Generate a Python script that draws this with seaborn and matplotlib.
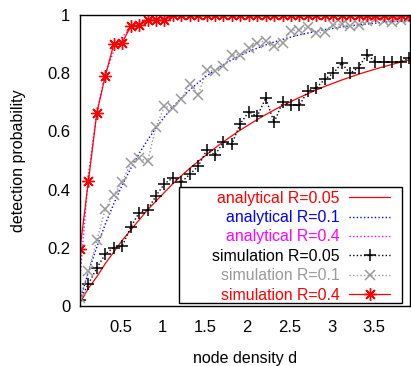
import numpy as np
import pandas as pd
import matplotlib
matplotlib.use("Agg")
import matplotlib.pyplot as plt
import seaborn as sns
from matplotlib.ticker import FixedLocator, FuncFormatter
from matplotlib.patches import Rectangle

# ---------------- data ----------------
density = [0.02, 0.12, 0.22, 0.32, 0.42, 0.52, 0.62, 0.72, 0.82, 0.92,
           1.02, 1.12, 1.22, 1.32, 1.42, 1.52, 1.62, 1.72, 1.82, 1.92,
           2.02, 2.12, 2.22, 2.32, 2.42, 2.52, 2.62, 2.72, 2.82, 2.92,
           3.02, 3.12, 3.22, 3.32, 3.42, 3.52, 3.62, 3.72, 3.82, 3.92]

analytic_r005 = [0.010, 0.060, 0.100, 0.145, 0.185, 0.225, 0.260, 0.295, 0.330, 0.360,
                 0.390, 0.420, 0.447, 0.473, 0.497, 0.520, 0.543, 0.565, 0.585, 0.605,
                 0.623, 0.641, 0.658, 0.674, 0.689, 0.703, 0.717, 0.730, 0.743, 0.755,
                 0.766, 0.777, 0.787, 0.797, 0.806, 0.815, 0.823, 0.831, 0.839, 0.846]

analytic_r01 = [0.020, 0.116, 0.203, 0.281, 0.351, 0.415, 0.472, 0.524, 0.570, 0.612,
                0.650, 0.684, 0.715, 0.743, 0.768, 0.791, 0.811, 0.830, 0.847, 0.862,
                0.875, 0.887, 0.898, 0.908, 0.917, 0.925, 0.933, 0.939, 0.945, 0.951,
                0.955, 0.960, 0.964, 0.967, 0.970, 0.973, 0.976, 0.978, 0.980, 0.982]

analytic_r04 = [0.095, 0.451, 0.667, 0.798, 0.878, 0.926, 0.955, 0.973, 0.983, 0.990,
                0.994, 0.996, 0.998, 0.999, 0.999, 1.000, 1.000, 1.000, 1.000, 1.000,
                1.000, 1.000, 1.000, 1.000, 1.000, 1.000, 1.000, 1.000, 1.000, 1.000,
                1.000, 1.000, 1.000, 1.000, 1.000, 1.000, 1.000, 1.000, 1.000, 1.000]

sim_r005 = [0.020, 0.075, 0.130, 0.178, 0.200, 0.205, 0.270, 0.320, 0.330, 0.378,
            0.420, 0.440, 0.425, 0.452, 0.480, 0.535, 0.520, 0.563, 0.557, 0.627,
            0.668, 0.652, 0.715, 0.631, 0.700, 0.690, 0.690, 0.740, 0.750, 0.780,
            0.800, 0.835, 0.800, 0.820, 0.865, 0.840, 0.840, 0.840, 0.840, 0.852]

sim_r01 = [0.025, 0.120, 0.226, 0.332, 0.381, 0.427, 0.490, 0.508, 0.497, 0.615,
           0.686, 0.682, 0.711, 0.763, 0.726, 0.810, 0.808, 0.825, 0.863, 0.865,
           0.886, 0.906, 0.912, 0.895, 0.906, 0.946, 0.951, 0.961, 0.939, 0.941,
           0.967, 0.969, 0.963, 0.967, 0.981, 0.986, 0.981, 0.978, 0.984, 0.990]

sim_r04 = [0.195, 0.430, 0.665, 0.792, 0.900, 0.905, 0.962, 0.965, 0.983, 0.983,
           0.983, 1.000, 1.000, 1.000, 1.000, 1.000, 1.000, 1.000, 1.000, 1.000,
           1.000, 1.000, 1.000, 1.000, 1.000, 1.000, 1.000, 1.000, 1.000, 1.000,
           1.000, 1.000, 1.000, 1.000, 1.000, 1.000, 1.000, 1.000, 1.000, 1.000]

labels = ["analytical R=0.05", "analytical R=0.1", "analytical R=0.4",
          "simulation R=0.05", "simulation R=0.1", "simulation R=0.4"]
x_ticks = [0.5, 1, 1.5, 2, 2.5, 3, 3.5]
y_ticks = [0, 0.2, 0.4, 0.6, 0.8, 1]

# ---------------- style ----------------
sns.set_theme(style="white")
plt.rcParams["font.family"] = ["Liberation Sans", "DejaVu Sans"]
plt.rcParams["axes.edgecolor"] = "black"
plt.rcParams["axes.linewidth"] = 1.0

df = pd.DataFrame({"d": density,
                   "a005": analytic_r005, "a01": analytic_r01, "a04": analytic_r04,
                   "s005": sim_r005, "s01": sim_r01, "s04": sim_r04})

fig = plt.figure(figsize=(4.11, 3.66), dpi=100)
ax = fig.add_axes([80 / 411, (366 - 305.7) / 366, 330 / 411, 290.4 / 366])

dot = (0, (1, 1.6))
gray = "#9a9a9a"
specs = [
    ("a005", dict(color="red", linestyle="-", linewidth=0.9)),
    ("a01", dict(color="blue", linestyle=dot, linewidth=1.0)),
    ("a04", dict(color="magenta", linestyle=dot, linewidth=1.0)),
    ("s005", dict(color="black", linestyle=dot, linewidth=1.0, marker="+",
                  markersize=8, markeredgewidth=1.1, markeredgecolor="black")),
    ("s01", dict(color=gray, linestyle=dot, linewidth=1.0, marker="x",
                 markersize=7, markeredgewidth=1.1, markeredgecolor=gray)),
    ("s04", dict(color="red", linestyle="-", linewidth=0.9, marker=(8, 2, 0),
                 markersize=9, markeredgewidth=1.0, markeredgecolor="red")),
]
for (col, kw), lab in zip(specs, labels):
    sns.lineplot(data=df, x="d", y=col, ax=ax, label=lab, legend=False, **kw)

ax.set_xlim(0.02, 3.93)
ax.set_ylim(0, 1)
ax.xaxis.set_major_locator(FixedLocator(x_ticks))
ax.yaxis.set_major_locator(FixedLocator(y_ticks))
fmt = FuncFormatter(lambda v, p: "%g" % v)
ax.xaxis.set_major_formatter(fmt)
ax.yaxis.set_major_formatter(fmt)
ax.tick_params(direction="in", length=4, width=1, top=False, right=False,
               labelsize=12, colors="black")
ax.tick_params(axis="x", pad=10)
ax.tick_params(axis="y", pad=7)
for s in ax.spines.values():
    s.set_visible(True)
    s.set_color("black")
    s.set_linewidth(1.0)

ax.set_xlabel("node density d", fontsize=11.5, labelpad=12, color="black")
ax.set_ylabel("detection probability", fontsize=11.5, labelpad=15, color="black")

handles = ax.get_lines()[:6]
leg = ax.legend(handles, labels, loc="lower right", bbox_to_anchor=(0.94, 0.010),
                frameon=False, markerfirst=False, fontsize=11.4, handlelength=2.6,
                handletextpad=0.6, labelspacing=0.28, borderpad=0, borderaxespad=0,
                numpoints=1)
text_colors = ["red", "blue", "magenta", "black", gray, "red"]
for t, c in zip(leg.get_texts(), text_colors):
    t.set_color(c)

ax.add_patch(Rectangle((0.30, 0.009), 0.676, 0.400, transform=ax.transAxes,
                       fill=True, facecolor="white", edgecolor="black",
                       linewidth=1.0, zorder=4))
leg.set_zorder(5)

fig.savefig("out.png", dpi=100)
